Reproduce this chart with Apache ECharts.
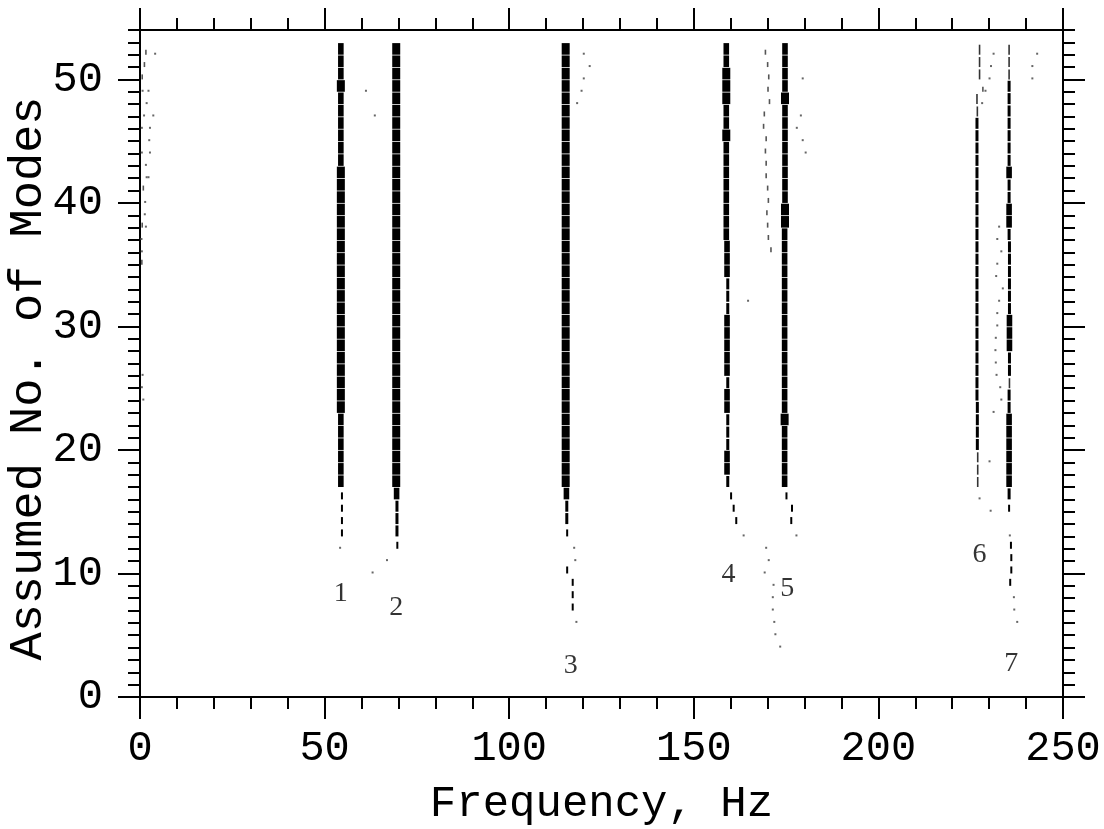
<!DOCTYPE html>
<html>
<head>
<meta charset="utf-8">
<script src="https://cdn.jsdelivr.net/npm/echarts@6/dist/echarts.min.js"></script>
<style>
html,body{margin:0;padding:0;background:#fff;}
#chart{width:1104px;height:829px;}
</style>
</head>
<body>
<div id="chart"></div>
<script>
// ---- Data: stabilization diagram ----
// Model orders of the stable columns (top to bottom)
const orders = [52,51,50,49,48,47,46,45,44,43,42,41,40,39,38,37,36,35,34,33,32,31,30,29,28,27,26,25,24,23,22,21,20,19,18,17];

// Column frequencies (Hz) for each order above, and stability class per order
// L = stable (large), M = stable (medium), S = narrow, U = thin tall, G = small dash
const mode1Freq = [54.4,54.4,54.4,54.4,54.4,54.4,54.4,54.4,54.4,54.4,54.4,54.4,54.4,54.4,54.4,54.4,54.4,54.4,54.4,54.4,54.4,54.4,54.4,54.4,54.4,54.4,54.4,54.4,54.4,54.4,54.4,54.4,54.4,54.4,54.4,54.4];
const mode1Class = "MMMLMMMMMMLLLLLLLLLLLLLLLLLLLLMMMMMM";
const mode2Freq = [69.4,69.4,69.4,69.4,69.4,69.4,69.4,69.4,69.4,69.4,69.4,69.4,69.4,69.4,69.4,69.4,69.4,69.4,69.4,69.4,69.4,69.4,69.4,69.4,69.4,69.4,69.4,69.4,69.4,69.4,69.4,69.4,69.4,69.4,69.4,69.4];
const mode2Class = "LLLLLLLLLLLLLLLLLLLLLLLLLLLLLLLLLLLL";
const mode3Freq = [115.3,115.3,115.3,115.3,115.3,115.3,115.3,115.3,115.3,115.3,115.3,115.3,115.3,115.3,115.3,115.3,115.3,115.3,115.3,115.3,115.3,115.3,115.3,115.3,115.3,115.3,115.3,115.3,115.3,115.3,115.3,115.3,115.3,115.3,115.3,115.3];
const mode3Class = "LLLLLLLLLLLLLLLLLLLLLLLLLLLLLLLLLLLL";
const mode4Freq = [158.8,158.8,158.8,158.8,158.8,158.8,158.8,158.8,158.8,158.8,158.8,158.8,158.8,158.8,158.8,158.8,159.0,159.0,159.0,159.2,159.2,159.2,159.0,159.0,159.0,159.0,159.0,159.2,159.0,159.0,159.2,159.2,159.2,159.0,159.0,159.2];
const mode4Class = "MMLLLMMLMMMMMMMMMMMSSSMMMMMSMMSSSMMS";
const mode5Freq = [174.7,174.7,174.7,174.7,174.7,174.7,174.7,174.7,174.7,174.7,174.7,174.7,174.7,174.7,174.7,174.6,174.6,174.6,174.6,174.6,174.6,174.6,174.6,174.6,174.6,174.6,174.6,174.6,174.6,174.6,174.6,174.6,174.6,174.6,174.6,174.6];
const mode5Class = "MMMMLMMMMMMMMLLMMMMMMMMMMMMMMMLMMMMM";
const mode6Freq = [227.4,227.4,227.4,228.3,226.7,226.8,226.7,226.7,226.7,226.7,226.7,226.7,226.7,226.7,226.7,226.7,226.7,226.7,226.7,226.7,226.7,226.7,226.7,226.7,226.7,226.7,226.7,226.7,226.7,226.8,226.8,226.8,226.8,226.9,226.9,226.9];
const mode6Class = "UUUGUUSSSSSSSSSSSSSSSSSSSSSSSSSSSUUU";
const mode7Freq = [235.4,235.4,235.4,235.4,235.4,235.4,235.4,235.4,235.4,235.4,235.4,235.4,235.4,235.4,235.4,235.4,235.5,235.5,235.5,235.5,235.5,235.5,235.5,235.5,235.5,235.5,235.5,235.5,235.4,235.4,235.4,235.4,235.4,235.4,235.4,235.4];
const mode7Class = "UUUSSSSSSSMSSMMSSSSSSSMMMSSUSSMMMMMM";

// Low-order tails of each column: [frequency, order, class]
const mode1Tail = [[54.7,16,"T"],[54.7,15,"T"],[54.7,14,"T"],[54.7,13,"T"],[54.2,12,"D"]];
const mode2Tail = [[69.5,16,"M"],[69.6,15,"S"],[69.6,14,"S"],[69.6,13,"S"],[69.7,12,"T"]];
const mode3Tail = [[115.5,16,"M"],[115.6,15,"S"],[115.6,14,"S"],[115.7,13,"T"],[117.6,12,"D"],[117.9,11,"D"],[115.7,10,"T"],[117.2,9,"T"],[117.2,8,"T"],[117.2,7,"T"],[118.2,6,"D"]];
const mode4Tail = [[160.1,16,"T"],[160.8,15,"T"],[161.5,14,"T"],[163.5,13,"D"]];
const mode5Tail = [[175.1,16,"T"],[176.6,15,"T"],[176.4,14,"T"],[177.8,13,"D"]];
const mode6Tail = [[227.4,16,"D"],[230.4,15,"D"]];
const mode7Tail = [[235.4,16,"S"],[235.4,15,"T"],[235.6,13,"D"],[235.9,12,"T"],[236.0,11,"T"],[236.0,10,"T"],[235.7,9,"T"],[236.7,8,"D"],[236.8,7,"D"],[237.6,6,"D"]];

// Unstable poles: small dashes [frequency, order]
const smallDashes = [
  [1.6,52],[1.2,51],[0.6,50],[0.9,41],[0.6,38],[0.5,35],
  [169.4,52],[170.0,51],[170.3,50],[170.1,49],[170.5,48],[169.1,47],[168.9,46],[169.6,45],[169.4,44],
  [169.6,43],[169.6,42],[170.0,41],[170.2,40],[169.8,39],[170.0,38],[170.2,37],[170.9,36]
];
// Unstable poles: dots [frequency, order]
const dots = [
  [4.1,52],[0.7,49],[2.3,49],[1.8,48],[1.1,47],[3.6,47],[0.5,46],[2.7,46],[2.5,45],[0.5,44],[2.7,44],
  [1.6,43],[1.8,42],[2.3,42],[1.4,40],[1.3,39],[1.6,38],[0.4,37],[0.5,36],[0.7,26],[0.5,25],[0.9,24],
  [61.2,49],[63.6,47],[66.9,11],[63.0,10],
  [120.2,52],[121.8,51],[120.2,50],[119.6,49],[118.4,48],
  [164.7,32],
  [169.6,12],[170.3,11],[169.2,10],[171.6,9],[171.4,8],[171.4,7],[171.8,6],[172.1,5],[173.4,4],
  [179.5,50],[179.0,47],[177.9,46],[179.5,45],[180.3,44],
  [231.2,52],[230.5,51],[230.1,50],[229.0,49],[228.1,48],
  [232.7,38],[232.2,37],[233.3,36],[232.2,35],[231.9,34],[233.7,33],[232.7,32],[232.2,31],[232.2,30],
  [231.8,29],[231.7,28],[231.8,27],[232.0,26],[233.0,25],[233.3,24],[231.2,23],[230.1,19],
  [243.0,52],[241.7,51],[241.7,50]
];

// Mode number annotations
const modeLabels = ["1","2","3","4","5","6","7"];
const modeLabelX = [54.4,69.4,116.7,159.4,175.3,227.4,236.0];
const modeLabelY = [8.4,7.2,2.5,9.9,8.8,11.5,2.7];

// Axis ticks
const xMajor = [0,50,100,150,200,250];
const xMinor = [0,10,20,30,40,50,60,70,80,90,100,110,120,130,140,150,160,170,180,190,200,210,220,230,240,250];
const yMajor = [0,10,20,30,40,50];
const yMinor = [0,1,2,3,4,5,6,7,8,9,10,11,12,13,14,15,16,17,18,19,20,21,22,23,24,25,26,27,28,29,30,31,32,33,34,35,36,37,38,39,40,41,42,43,44,45,46,47,48,49,50,51,52,53,54];

// ---- Styles per stability class ----
const CLS = {
  L: {size:[8,11.6], color:'#000'},
  M: {size:[5.6,11.6], color:'#000'},
  S: {size:[3,11], color:'#000'},
  U: {size:[1.6,10], color:'#333'},
  T: {size:[2,7], color:'#000'},
  G: {size:[1.6,5], color:'#555'},
  D: {size:[2,2], color:'#666'}
};

const groups = {L:[],M:[],S:[],U:[],T:[],G:[],D:[]};
function addColumn(freq, cls){
  orders.forEach((n,i)=>{ groups[cls[i]].push([freq[i], n]); });
}
function addTail(tail){ tail.forEach(p=>groups[p[2]].push([p[0],p[1]])); }
addColumn(mode1Freq, mode1Class); addColumn(mode2Freq, mode2Class); addColumn(mode3Freq, mode3Class);
addColumn(mode4Freq, mode4Class); addColumn(mode5Freq, mode5Class); addColumn(mode6Freq, mode6Class);
addColumn(mode7Freq, mode7Class);
[mode1Tail,mode2Tail,mode3Tail,mode4Tail,mode5Tail,mode6Tail,mode7Tail].forEach(addTail);
smallDashes.forEach(p=>groups.G.push(p));
dots.forEach(p=>groups.D.push(p));

const series = Object.keys(groups).map(k=>({
  type:'scatter', xAxisIndex:0, yAxisIndex:0, symbol:'rect',
  symbolSize: CLS[k].size, symbolOffset:[0,'-50%'],
  itemStyle:{color:CLS[k].color, opacity:1}, data:groups[k], silent:true, z:3
}));
series.push({
  type:'scatter', xAxisIndex:0, yAxisIndex:0, symbolSize:0, silent:true,
  data: modeLabels.map((t,i)=>({name:t, value:[modeLabelX[i], modeLabelY[i]]})),
  label:{show:true, position:'inside', formatter:'{b}', color:'#000',
         fontFamily:'"Liberation Serif", "DejaVu Serif", serif', fontSize:28}
});

const FONT = '"Liberation Mono", "DejaVu Sans Mono", monospace';
const lineStyle = {color:'#000', width:2};

function xAx(pos, major, showLabel){
  return {
    type:'value', min:0, max:250, position:pos,
    axisLine:{show:true, onZero:false, lineStyle},
    axisTick:{show:true, inside:false, length: major?22:12, lineStyle, customValues: major?xMajor:xMinor},
    axisLabel:{show:showLabel, customValues:xMajor, margin:31, color:'#000', fontFamily:FONT, fontSize:42},
    splitLine:{show:false}
  };
}
function yAx(pos, major, showLabel){
  return {
    type:'value', min:0, max:54, position:pos,
    axisLine:{show:true, onZero:false, lineStyle},
    axisTick:{show:true, inside:false, length: major?22:12, lineStyle, customValues: major?yMajor:yMinor},
    axisLabel:{show:showLabel, customValues:yMajor, margin:37, color:'#000', fontFamily:FONT, fontSize:42},
    splitLine:{show:false}
  };
}
const xAxes = [xAx('bottom',true,true), xAx('bottom',false,false), xAx('top',true,false), xAx('top',false,false)];
xAxes[0].name = 'Frequency, Hz';
xAxes[0].nameLocation = 'middle';
xAxes[0].nameGap = 85;
xAxes[0].nameTextStyle = {fontFamily:FONT, fontSize:44, color:'#000'};
const yAxes = [yAx('left',true,true), yAx('left',false,false), yAx('right',true,false), yAx('right',false,false)];
yAxes[0].name = 'Assumed No. of Modes';
yAxes[0].nameLocation = 'middle';
yAxes[0].nameGap = 88;
yAxes[0].nameMoveOverlap = false;
yAxes[0].nameTextStyle = {fontFamily:FONT, fontSize:47, color:'#000', padding:[0,30,0,0]};

const chart = echarts.init(document.getElementById('chart'), null, {renderer:'canvas'});
chart.setOption({
  animation:false,
  backgroundColor:'#fff',
  grid:{left:140, right:41, top:30, bottom:132, containLabel:false, outerBoundsMode:'none'},
  xAxis:xAxes,
  yAxis:yAxes,
  series
});
</script>
</body>
</html>
